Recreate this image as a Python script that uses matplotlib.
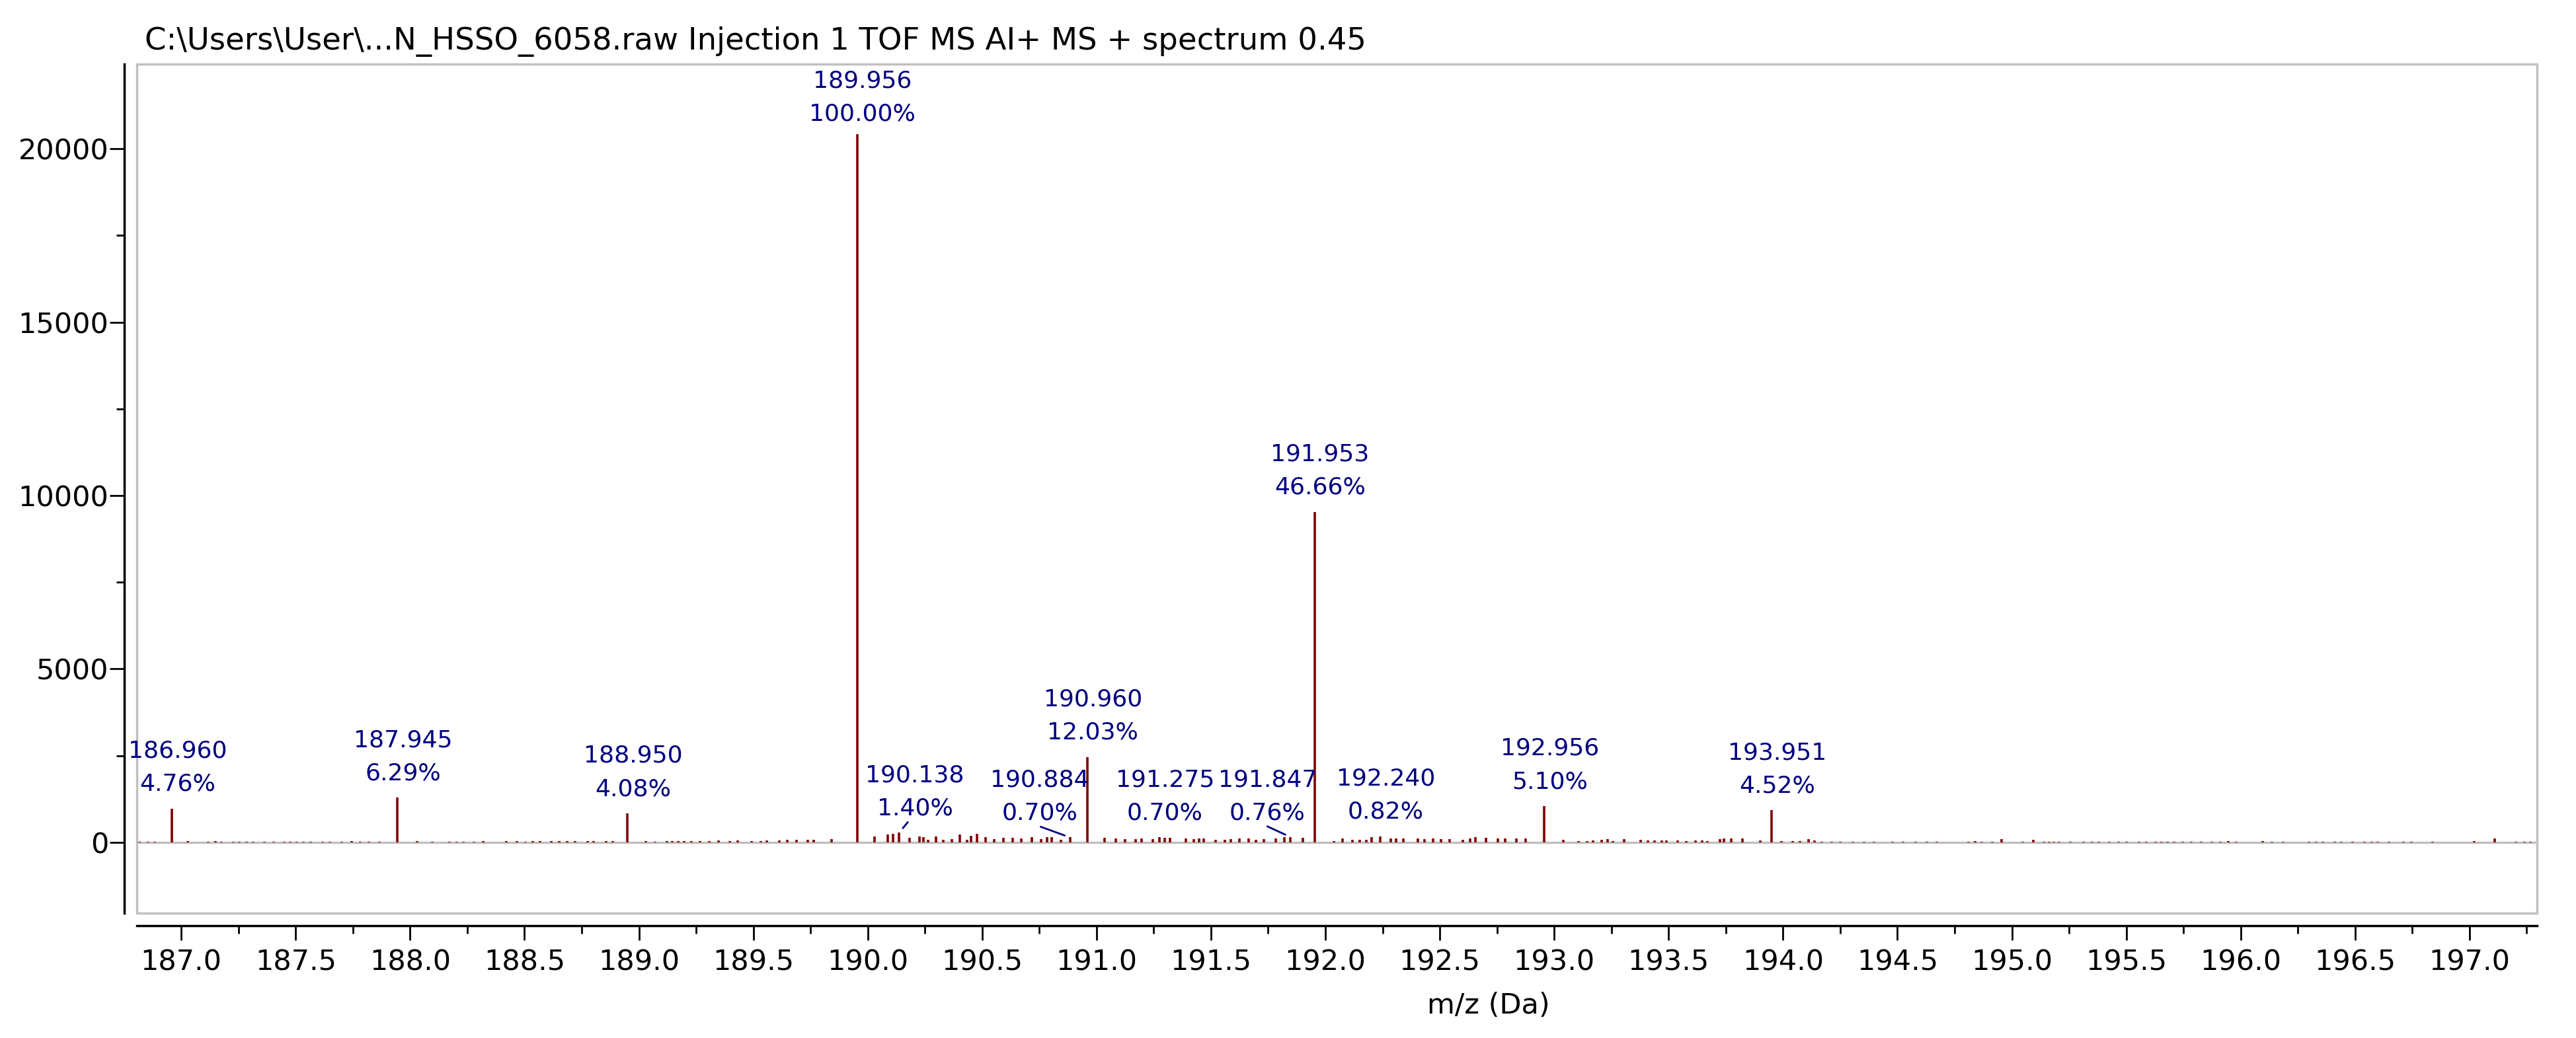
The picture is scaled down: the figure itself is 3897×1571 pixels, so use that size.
import matplotlib

matplotlib.use("Agg")
import matplotlib.pyplot as plt
from matplotlib.patches import Rectangle
from matplotlib.ticker import FormatStrFormatter, MultipleLocator

# Output
OUT_FILE = "out.png"
FIG_W_PX, FIG_H_PX, DPI = 3897, 1571, 100

TITLE = r"C:\Users\User\...N_HSSO_6058.raw Injection 1 TOF MS AI+ MS + spectrum 0.45"
X_LABEL = "m/z (Da)"

# Labelled peaks (m/z, % of base peak)
BASE_PEAK_INTENSITY = 20420
LABEL_MZ = [186.960, 187.945, 188.950, 189.956, 190.138, 190.884, 190.960,
            191.275, 191.847, 191.953, 192.240, 192.956, 193.951]
LABEL_PCT = [4.76, 6.29, 4.08, 100.00, 1.40, 0.70, 12.03,
             0.70, 0.76, 46.66, 0.82, 5.10, 4.52]

# Small unlabelled peaks
NOISE_MZ = [
    186.817, 186.855, 186.885, 187.029, 187.117, 187.149, 187.176, 187.228,
    187.253, 187.286, 187.314, 187.364, 187.405, 187.449, 187.476, 187.506,
    187.533, 187.567, 187.618, 187.649, 187.702, 187.745, 187.783, 187.820,
    187.867, 188.030, 188.098, 188.171, 188.205, 188.233, 188.280, 188.320,
    188.422, 188.468, 188.506, 188.537, 188.568, 188.617, 188.652, 188.687,
    188.722, 188.776, 188.803, 188.857, 188.887,
    189.030, 189.071, 189.122, 189.145, 189.172, 189.199, 189.230, 189.267,
    189.307, 189.348, 189.398, 189.433, 189.492, 189.533, 189.560, 189.614,
    189.648, 189.688, 189.739, 189.764, 189.843,
    190.030, 190.087, 190.111, 190.183, 190.226, 190.243, 190.264, 190.298,
    190.331, 190.368, 190.402, 190.433, 190.453, 190.479, 190.514, 190.553,
    190.593, 190.635, 190.672, 190.716, 190.757, 190.783, 190.804, 190.845,
    191.034, 191.083, 191.124, 191.170, 191.198, 191.245, 191.297, 191.322,
    191.390, 191.426, 191.448, 191.468, 191.521, 191.562, 191.586, 191.624,
    191.664, 191.698, 191.732, 191.782, 191.820, 191.901,
    192.038, 192.075, 192.117, 192.150, 192.178, 192.203, 192.286, 192.309,
    192.342, 192.403, 192.434, 192.471, 192.505, 192.543, 192.602, 192.633,
    192.657, 192.703, 192.755, 192.786, 192.836, 192.876,
    193.041, 193.106, 193.145, 193.171, 193.206, 193.233, 193.256, 193.306,
    193.377, 193.409, 193.439, 193.469, 193.490, 193.540, 193.577, 193.617,
    193.647, 193.671, 193.725, 193.743, 193.773, 193.824, 193.902,
    193.993, 194.042, 194.074, 194.112, 194.139, 194.168, 194.213, 194.250,
    194.304, 194.354, 194.398, 194.479, 194.524, 194.581, 194.628, 194.671,
    194.810, 194.839, 194.868, 194.916, 194.955, 195.047, 195.094, 195.139,
    195.162, 195.184, 195.206, 195.256,
    195.314, 195.350, 195.380, 195.426, 195.465, 195.500, 195.555, 195.589,
    195.628, 195.655, 195.681, 195.709, 195.746, 195.783, 195.827, 195.873,
    195.910, 195.946, 195.982, 196.096, 196.136, 196.186, 196.299, 196.330,
    196.359, 196.411, 196.441, 196.488, 196.541, 196.573, 196.600, 196.649,
    196.711, 196.746, 196.839, 197.020, 197.111, 197.202, 197.241, 197.265,
]
NOISE_INT = [
    20, 20, 20, 39, 20, 39, 20, 20,
    20, 20, 20, 20, 20, 20, 20, 20,
    20, 20, 20, 20, 20, 39, 20, 20,
    20, 39, 20, 20, 20, 20, 20, 39,
    39, 39, 20, 39, 39, 39, 39, 39,
    39, 39, 39, 39, 39,
    39, 20, 39, 39, 39, 39, 39, 39,
    39, 52, 39, 52, 39, 39, 52, 52,
    72, 72, 72, 72, 91,
    169, 234, 247, 130, 169, 156, 78, 169,
    65, 91, 234, 78, 195, 247, 156, 91,
    130, 130, 117, 156, 91, 156, 156, 65,
    130, 104, 91, 91, 104, 91, 130, 130,
    104, 91, 104, 104, 65, 78, 91, 104,
    104, 65, 91, 117, 143, 130,
    39, 104, 65, 65, 78, 143, 104, 104,
    104, 117, 91, 104, 91, 91, 78, 104,
    143, 130, 104, 104, 104, 104,
    78, 39, 39, 52, 78, 91, 39, 91,
    78, 58, 58, 58, 58, 58, 39, 58,
    58, 39, 91, 110, 110, 110, 58,
    39, 39, 39, 91, 58, 20, 20, 20,
    20, 20, 20, 20, 20, 20, 20, 20,
    20, 39, 20, 20, 91, 20, 72, 20,
    20, 20, 20, 20,
    20, 20, 20, 20, 20, 20, 20, 20,
    20, 20, 20, 20, 20, 20, 20, 20,
    20, 39, 20, 39, 20, 20, 20, 20,
    20, 20, 20, 20, 20, 20, 20, 20,
    20, 20, 20, 39, 110, 20, 20, 20,
]

# Label placement (offset in points from the peak top, leader line or not)
DEFAULT_LABEL_OFFSET = (6, 14.5)
LABEL_LAYOUT = {
    189.956: ((5, 9.5), False),
    190.138: ((17, 14), True),
    190.884: ((-33, 14), True),
    191.847: ((-25, 14), True),
}

PEAK_COLOR = "#800000"
LABEL_COLOR = "#000080"
FRAME_COLOR = "#c0c0c0"


def main() -> None:
    fig = plt.figure(figsize=(FIG_W_PX / DPI, FIG_H_PX / DPI), dpi=DPI)
    ax = fig.add_axes([0.05312, 0.12031, 0.93174, 0.81795])

    label_int = [p / 100 * BASE_PEAK_INTENSITY for p in LABEL_PCT]

    ax.axhline(0, color=FRAME_COLOR, lw=2.5, zorder=1)
    ax.vlines(NOISE_MZ, 0, NOISE_INT, color=PEAK_COLOR, lw=2.6, zorder=2)
    ax.vlines(LABEL_MZ, 0, label_int, color=PEAK_COLOR, lw=2.6, zorder=2)

    for mz, pct, h in zip(LABEL_MZ, LABEL_PCT, label_int):
        offset, leader = LABEL_LAYOUT.get(mz, (DEFAULT_LABEL_OFFSET, False))
        arrow = None
        if leader:
            arrow = dict(arrowstyle="-", color=LABEL_COLOR, lw=2,
                         relpos=(0.45, 0), shrinkA=1, shrinkB=6)
        ax.annotate(f"{mz:.3f}\n{pct:.2f}%", xy=(mz, h), xytext=offset,
                    textcoords="offset points", ha="center", va="bottom",
                    fontsize=26, color=LABEL_COLOR, linespacing=1.6,
                    arrowprops=arrow, annotation_clip=False)

    ax.add_patch(Rectangle((0, 0), 1, 1, transform=ax.transAxes, fill=False,
                           edgecolor=FRAME_COLOR, lw=2.5, clip_on=False, zorder=0))

    ax.set_xlim(186.806, 197.295)
    ax.set_ylim(-2040, 22440)

    for side in ("top", "right"):
        ax.spines[side].set_visible(False)
    for side in ("left", "bottom"):
        ax.spines[side].set_position(("outward", 13.7))
        ax.spines[side].set_linewidth(2.5)

    ax.xaxis.set_major_locator(MultipleLocator(0.5))
    ax.xaxis.set_minor_locator(MultipleLocator(0.25))
    ax.xaxis.set_major_formatter(FormatStrFormatter("%.1f"))
    ax.yaxis.set_major_locator(MultipleLocator(5000))
    ax.yaxis.set_minor_locator(MultipleLocator(2500))

    ax.tick_params(which="major", length=16, width=2, labelsize=31)
    ax.tick_params(which="minor", length=8.5, width=2)
    ax.tick_params(axis="y", pad=1)
    ax.tick_params(axis="x", pad=9)

    fig.text(219 / FIG_W_PX, 1 - 63 / FIG_H_PX, TITLE, fontsize=33.5,
             ha="left", va="center")
    fig.text(2252 / FIG_W_PX, 1 - 1522 / FIG_H_PX, X_LABEL, fontsize=31,
             ha="center", va="center")

    fig.savefig(OUT_FILE, dpi=DPI)


if __name__ == "__main__":
    main()
